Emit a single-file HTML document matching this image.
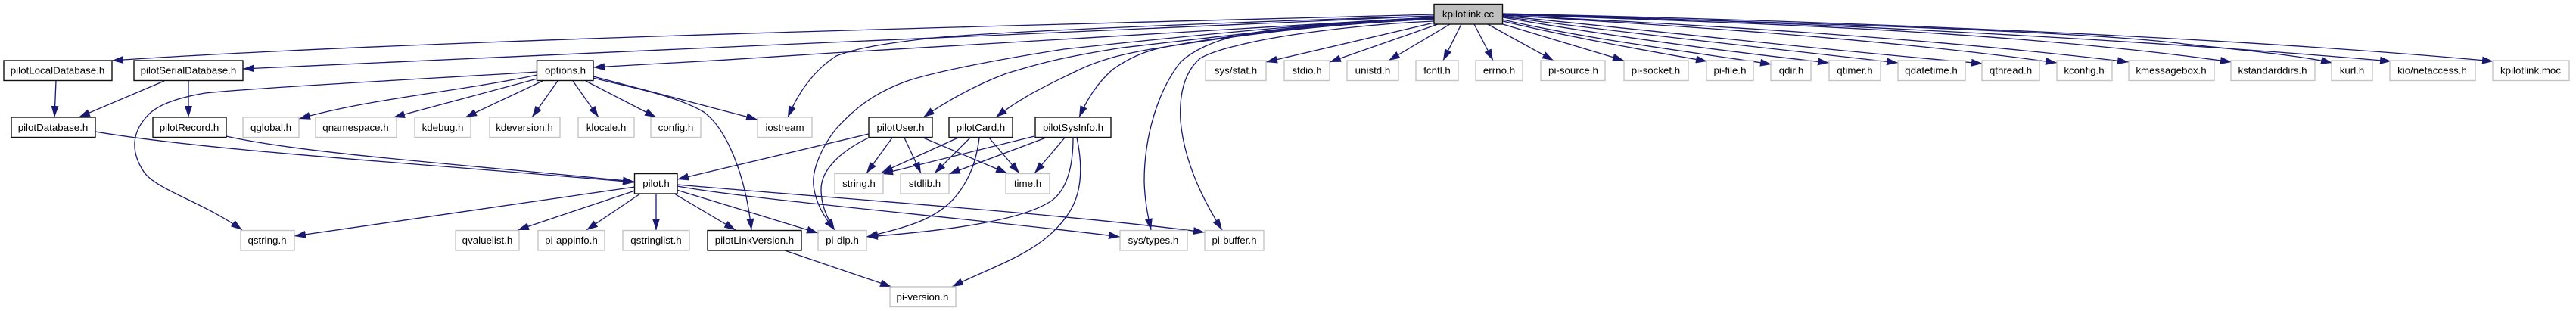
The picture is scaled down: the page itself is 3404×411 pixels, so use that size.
<!DOCTYPE html>
<html><head><meta charset="utf-8"><style>
html,body{margin:0;padding:0;background:#fff;width:3404px;height:411px;overflow:hidden}
svg{display:block}
text{font-family:"Liberation Sans",Arial,sans-serif;font-size:13.33px;fill:#000;text-anchor:middle}
.g{fill:#fff;stroke:#c4c4c4;stroke-width:1.4}
.b{fill:#fff;stroke:#111;stroke-width:1.4}
.e{fill:none;stroke:#191970;stroke-width:1.3;marker-end:url(#a)}
</style></head><body>
<svg xmlns="http://www.w3.org/2000/svg" width="3404" height="411" viewBox="0 0 3404 411">
<defs><marker id="a" markerUnits="userSpaceOnUse" markerWidth="15" markerHeight="11" viewBox="0 0 15 11" refX="15" refY="5.5" orient="auto"><path d="M0,0.5 L15,5.5 L0,10.5Z" fill="#191970"/></marker></defs>
<g class="e">
<path d="M1895,19 C1500,30 600,50 148,80"/>
<path d="M1895,21 C1500,38 800,69 321,91"/>
<path d="M1895,23 C1600,38 1300,58 1100,70 C1000,77 880,84 784,89"/>
<path d="M1895,21 C1700,27 1340,40 1234,50 C1170,57 1130,64 1105,74 C1080,90 1058,115 1041,155"/>
<path d="M1895,23 C1750,30 1600,44 1406,65 C1310,80 1230,96 1196,108 C1150,125 1125,148 1105,170 C1085,195 1073,225 1075,245 C1078,270 1090,288 1103,304"/>
<path d="M1895,24 C1750,30 1617,48 1483,63 C1400,76 1370,85 1330,97 C1290,112 1255,131 1220,155"/>
<path d="M1895,25 C1750,32 1636,46 1521,65 C1480,72 1450,80 1420,95 C1385,112 1350,128 1316,155"/>
<path d="M1895,25 C1750,33 1636,44 1540,62 C1510,68 1490,78 1470,92 C1450,110 1437,130 1426,155"/>
<path d="M1895,23 C1780,30 1680,37 1636,47 C1600,55 1575,68 1560,82 C1530,120 1512,180 1512,240 C1513,270 1518,290 1521,304"/>
<path d="M1895,28 C1800,32 1690,46 1636,60 C1610,66 1595,72 1586,77 C1565,95 1558,125 1560,160 C1565,215 1590,265 1615,304"/>
<path d="M1895,30 L1673,82"/>
<path d="M1900,32 L1757,82"/>
<path d="M1916,32 L1835,80"/>
<path d="M1931,32 L1907,80"/>
<path d="M1948,32 L1973,80"/>
<path d="M1966,32 L2053,80"/>
<path d="M1986,32 L2146,80"/>
<path d="M1986,28 C2070,48 2170,66 2256,81"/>
<path d="M1986,26 C2100,52 2230,68 2341,85"/>
<path d="M1986,23 C2130,48 2280,68 2417,83"/>
<path d="M1986,22 C2160,45 2340,64 2508,83"/>
<path d="M1986,21 C2180,40 2400,65 2620,84"/>
<path d="M1986,20 C2200,33 2480,50 2718,83"/>
<path d="M1986,20 C2230,32 2530,48 2813,82"/>
<path d="M1986,19 C2300,30 2650,40 2949,82"/>
<path d="M1986,19 C2300,28 2750,40 2886,58 C2960,66 3030,72 3082,83"/>
<path d="M1986,18 C2350,28 2800,50 3160,81"/>
<path d="M1986,18 C2350,26 2900,45 3295,81"/>
<path d="M710,95 C600,102 350,115 271,123 C230,130 205,140 193,155 C175,175 172,200 190,227 C205,250 270,268 320,304"/>
<path d="M710,99 C600,122 490,130 395,157"/>
<path d="M710,104 L520,155"/>
<path d="M717,107 L615,155"/>
<path d="M737,107 L703,155"/>
<path d="M757,107 L791,155"/>
<path d="M774,107 L867,155"/>
<path d="M784,101 L1001,158"/>
<path d="M784,103 C830,115 890,125 930,148 C960,170 985,230 993,304"/>
<path d="M74,107 L72,155"/>
<path d="M217,107 L104,155"/>
<path d="M249,107 L249,155"/>
<path d="M126,174 C280,200 560,216 838,241"/>
<path d="M299,180 C400,203 620,218 838,240"/>
<path d="M839,247 L389,312"/>
<path d="M839,252 L684,304"/>
<path d="M846,256 L775,304"/>
<path d="M867,256 L867,304"/>
<path d="M891,256 L972,304"/>
<path d="M894,251 L1081,308"/>
<path d="M895,246 C1000,265 1300,290 1480,313"/>
<path d="M895,244 C1100,262 1400,282 1592,307"/>
<path d="M1037,331 L1178,379"/>
<path d="M1148,177 L895,237"/>
<path d="M1148,182 C1110,200 1085,225 1085,250 C1085,272 1093,288 1103,304"/>
<path d="M1179,182 L1145,229"/>
<path d="M1195,182 L1217,229"/>
<path d="M1220,182 L1331,229"/>
<path d="M1266,182 L1165,228"/>
<path d="M1282,182 L1235,229"/>
<path d="M1307,182 L1347,229"/>
<path d="M1294,182 C1290,215 1280,240 1260,263 C1235,290 1200,300 1145,313"/>
<path d="M1367,180 L1165,230"/>
<path d="M1382,182 L1254,230"/>
<path d="M1407,182 L1367,229"/>
<path d="M1418,182 C1418,220 1410,250 1390,265 C1350,292 1250,305 1145,313"/>
<path d="M1423,182 C1430,215 1432,255 1410,285 C1375,335 1315,350 1258,379"/>
</g>
<g>
<rect x="1895" y="5.5" width="90.5" height="26.5" style="fill:#bfbfbf;stroke:#111;stroke-width:1.4"/><text x="1940" y="23">kpilotlink.cc</text>
<rect class="b" x="5" y="80" width="143" height="26.5"/><text x="76" y="97.5">pilotLocalDatabase.h</text>
<rect class="b" x="177" y="80" width="144" height="26.5"/><text x="249" y="97.5">pilotSerialDatabase.h</text>
<rect class="b" x="709.5" y="80" width="74.5" height="26.5"/><text x="747" y="97.5">options.h</text>
<rect class="b" x="15" y="155" width="111" height="26.5"/><text x="70" y="173">pilotDatabase.h</text>
<rect class="b" x="202" y="155" width="97" height="26.5"/><text x="250" y="173">pilotRecord.h</text>
<rect class="g" x="321" y="155" width="74" height="26.5"/><text x="358" y="173">qglobal.h</text>
<rect class="g" x="417" y="155" width="107" height="26.5"/><text x="470" y="173">qnamespace.h</text>
<rect class="g" x="548" y="155" width="74" height="26.5"/><text x="585" y="173">kdebug.h</text>
<rect class="g" x="647" y="155" width="93" height="26.5"/><text x="693" y="173">kdeversion.h</text>
<rect class="g" x="764" y="155" width="74" height="26.5"/><text x="801" y="173">klocale.h</text>
<rect class="g" x="860" y="155" width="66" height="26.5"/><text x="893" y="173">config.h</text>
<rect class="g" x="1001" y="155" width="72" height="26.5"/><text x="1037" y="173">iostream</text>
<rect class="b" x="1148" y="155" width="84" height="26.5"/><text x="1190" y="173">pilotUser.h</text>
<rect class="b" x="1254" y="155" width="84" height="26.5"/><text x="1296" y="173">pilotCard.h</text>
<rect class="b" x="1368" y="155" width="100" height="26.5"/><text x="1418" y="173">pilotSysInfo.h</text>
<rect class="b" x="838.5" y="229.5" width="56.5" height="26.5"/><text x="867" y="247">pilot.h</text>
<rect class="g" x="1103" y="229.5" width="64" height="26.5"/><text x="1135" y="247">string.h</text>
<rect class="g" x="1190" y="229.5" width="64" height="26.5"/><text x="1222" y="247">stdlib.h</text>
<rect class="g" x="1329" y="229.5" width="58" height="26.5"/><text x="1358" y="247">time.h</text>
<rect class="g" x="318" y="304.5" width="71" height="26.5"/><text x="353" y="322">qstring.h</text>
<rect class="g" x="602" y="304.5" width="84" height="26.5"/><text x="644" y="322">qvaluelist.h</text>
<rect class="g" x="711" y="304.5" width="88" height="26.5"/><text x="755" y="322">pi-appinfo.h</text>
<rect class="g" x="823" y="304.5" width="88" height="26.5"/><text x="867" y="322">qstringlist.h</text>
<rect class="b" x="935" y="304.5" width="124" height="26.5"/><text x="997" y="322">pilotLinkVersion.h</text>
<rect class="g" x="1081" y="304.5" width="64" height="26.5"/><text x="1113" y="322">pi-dlp.h</text>
<rect class="g" x="1480" y="304.5" width="89" height="26.5"/><text x="1524" y="322">sys/types.h</text>
<rect class="g" x="1592" y="304.5" width="78" height="26.5"/><text x="1631" y="322">pi-buffer.h</text>
<rect class="g" x="1176" y="379" width="87" height="26.5"/><text x="1219" y="397">pi-version.h</text>
<rect class="g" x="1593" y="80" width="80" height="26.5"/><text x="1633" y="97.5">sys/stat.h</text>
<rect class="g" x="1697" y="80" width="60" height="26.5"/><text x="1727" y="97.5">stdio.h</text>
<rect class="g" x="1780" y="80" width="68" height="26.5"/><text x="1814" y="97.5">unistd.h</text>
<rect class="g" x="1871" y="80" width="56" height="26.5"/><text x="1899" y="97.5">fcntl.h</text>
<rect class="g" x="1950" y="80" width="62" height="26.5"/><text x="1981" y="97.5">errno.h</text>
<rect class="g" x="2036" y="80" width="85" height="26.5"/><text x="2079" y="97.5">pi-source.h</text>
<rect class="g" x="2146" y="80" width="85" height="26.5"/><text x="2188" y="97.5">pi-socket.h</text>
<rect class="g" x="2255" y="80" width="62" height="26.5"/><text x="2286" y="97.5">pi-file.h</text>
<rect class="g" x="2340" y="80" width="53" height="26.5"/><text x="2367" y="97.5">qdir.h</text>
<rect class="g" x="2417" y="80" width="68" height="26.5"/><text x="2451" y="97.5">qtimer.h</text>
<rect class="g" x="2508" y="80" width="89" height="26.5"/><text x="2552" y="97.5">qdatetime.h</text>
<rect class="g" x="2619" y="80" width="76" height="26.5"/><text x="2657" y="97.5">qthread.h</text>
<rect class="g" x="2718" y="80" width="73" height="26.5"/><text x="2754" y="97.5">kconfig.h</text>
<rect class="g" x="2813" y="80" width="113" height="26.5"/><text x="2869" y="97.5">kmessagebox.h</text>
<rect class="g" x="2948" y="80" width="111" height="26.5"/><text x="3003" y="97.5">kstandarddirs.h</text>
<rect class="g" x="3081" y="80" width="54" height="26.5"/><text x="3108" y="97.5">kurl.h</text>
<rect class="g" x="3158" y="80" width="113" height="26.5"/><text x="3214" y="97.5">kio/netaccess.h</text>
<rect class="g" x="3294" y="80" width="101" height="26.5"/><text x="3344" y="97.5">kpilotlink.moc</text>
</g>
</svg>
</body></html>
